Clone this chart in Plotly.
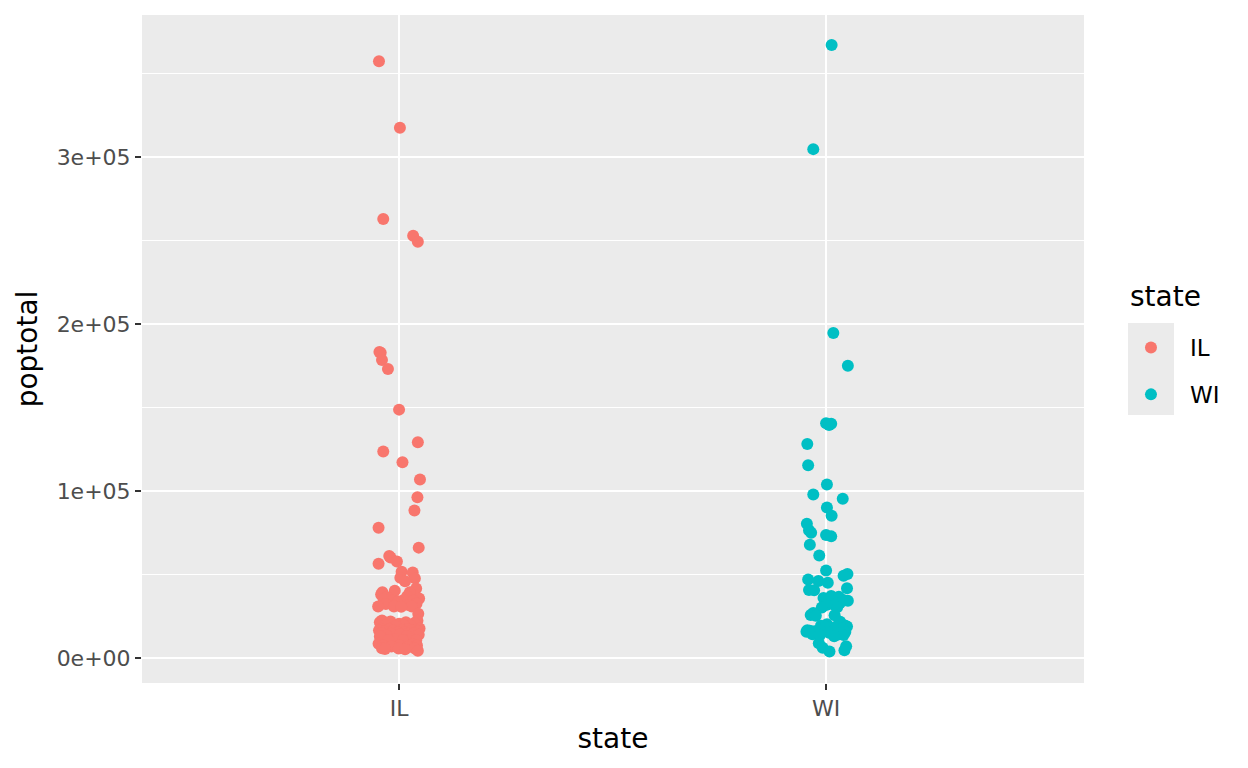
import plotly.graph_objects as go

# county populations (poptotal), with the jitter offset of each point
il_pop = [357313, 317471, 262852, 252913, 249238, 183241, 182827, 178386, 173025, 148723,
          129180, 123692, 117206, 106913, 96255, 88257, 77932, 66090, 61067, 60186,
          57733, 56393, 51644, 51159, 48052, 47679, 45957, 41561, 40319, 39413,
          39301, 38080, 37020, 36397, 35688, 35244, 34583, 34418, 34392, 33944,
          32653, 32337, 31704, 30806, 30798, 30787, 30728, 26551, 22422, 22261,
          21821, 21412, 21373, 20893, 20539, 19595, 19464, 19464, 19181, 17619,
          17577, 17290, 17241, 16805, 16545, 16522, 16516, 16269, 15972, 15921,
          15548, 15317, 14991, 14965, 14752, 14460, 14275, 13930, 13437, 13111,
          12846, 11347, 11164, 10670, 10626, 10609, 8499, 8096, 7523, 7498,
          7440, 6909, 6534, 5836, 5730, 5644, 5322, 5189, 4373]
il_jit = [-0.047, 0.002, -0.037, 0.033, 0.044, -0.046, -0.043, -0.040, -0.026, 0.000,
          0.044, -0.037, 0.008, 0.049, 0.043, 0.036, -0.048, 0.046, -0.023, -0.020,
          -0.005, -0.048, 0.006, 0.032, 0.003, 0.037, 0.014, 0.040, -0.010, -0.039,
          0.025, -0.042, 0.019, -0.028, 0.047, -0.036, 0.010, 0.034, -0.015, -0.002,
          0.041, -0.031, 0.022, -0.049, -0.012, 0.030, 0.005, 0.045, -0.040, 0.043,
          -0.020, 0.016, -0.045, 0.036, 0.000, -0.033, 0.027, 0.011, -0.008, 0.048,
          -0.043, 0.020, -0.024, 0.039, -0.047, 0.007, 0.030, -0.014, 0.044, -0.036,
          0.013, -0.003, 0.024, -0.041, 0.035, -0.019, 0.002, 0.046, -0.030, 0.018,
          -0.045, 0.028, -0.009, 0.040, -0.025, 0.009, -0.048, 0.032, -0.039, 0.001,
          0.042, -0.018, 0.021, -0.040, -0.001, 0.037, -0.033, 0.014, 0.044]

wi_pop = [367085, 304715, 194594, 175034, 140510, 140320, 139510, 128181, 115400, 103877,
          97904, 95328, 90083, 85183, 80421, 76559, 75000, 73605, 72831, 67783,
          61405, 52360, 50251, 49264, 46975, 46104, 45088, 41758, 40750, 40548,
          37157, 36633, 35909, 34773, 34291, 32765, 31679, 31647, 30339, 30226,
          26993, 25690, 25617, 25263, 21650, 20150, 19505, 19385, 18901, 18878,
          18651, 17707, 17521, 16588, 16307, 16076, 15940, 15682, 15600, 15079,
          14181, 14008, 13772, 13584, 13084, 8776, 7107, 6153, 4590, 3890]
wi_jit = [0.013, -0.030, 0.017, 0.051, 0.000, 0.012, 0.007, -0.044, -0.042, 0.002,
          -0.030, 0.039, 0.002, 0.013, -0.045, -0.040, -0.035, 0.000, 0.012, -0.038,
          -0.016, 0.000, 0.050, 0.041, -0.042, -0.018, 0.004, 0.049, -0.040, -0.028,
          0.012, 0.030, -0.006, 0.040, 0.051, 0.032, 0.000, 0.020, 0.026, -0.010,
          -0.030, -0.036, 0.020, -0.024, 0.033, 0.002, 0.044, -0.012, 0.024, 0.049,
          -0.001, 0.010, 0.037, -0.044, -0.038, -0.027, 0.016, -0.046, 0.045, 0.007,
          -0.032, 0.028, 0.041, -0.015, 0.019, -0.017, 0.047, -0.008, 0.043, 0.008]

states = ["IL", "WI"]
colors = ["#F8766D", "#00BFC4"]
y_ticks = [0, 100000, 200000, 300000]
y_labels = ["0e+00", "1e+05", "2e+05", "3e+05"]

FONT = "DejaVu Sans"
PANEL = "#EBEBEB"

fig = go.Figure()
for i, (pop, jit) in enumerate([(il_pop, il_jit), (wi_pop, wi_jit)]):
    fig.add_trace(go.Scatter(
        x=[i + 1 + j for j in jit], y=pop, mode="markers", name=states[i],
        legendgroup=states[i],
        marker=dict(color=colors[i], size=12, line=dict(width=0)),
    ))

# grey box behind the legend keys, like ggplot's key background
fig.add_shape(type="rect", xref="paper", yref="paper", x0=1.0467, x1=1.0955,
              y0=0.4012, y1=0.5389, fillcolor=PANEL, line=dict(width=0), layer="below")

# legend title placed by hand so the keys can sit further from the labels
fig.add_annotation(text="state", xref="paper", yref="paper", x=1.0467, y=0.5793,
                   xanchor="left", yanchor="middle", showarrow=False,
                   font=dict(size=28, color="black"))

# the page adds an 8px body margin, so the figure is a bit smaller than the window
fig.update_layout(
    width=1240, height=760,
    margin=dict(l=134, r=164, t=7, b=85),
    paper_bgcolor="white", plot_bgcolor=PANEL,
    font=dict(family=FONT, color="black"),
    showlegend=True,
    legend=dict(
        font=dict(size=23), x=1.0297, xanchor="left", y=0.5344, yanchor="top",
        itemwidth=68, tracegroupgap=14, bgcolor="rgba(0,0,0,0)",
    ),
    xaxis=dict(
        range=[0.398, 2.604], tickvals=[1, 2], ticktext=states,
        showgrid=True, gridcolor="white", gridwidth=2.2, zeroline=False,
        ticks="outside", ticklen=6, tickwidth=1.6, tickcolor="#333333",
        tickfont=dict(size=22, color="#4D4D4D"),
        title=dict(text="state", font=dict(size=28), standoff=7),
    ),
    yaxis=dict(
        range=[-14970, 385030], tickvals=y_ticks, ticktext=y_labels,
        showgrid=True, gridcolor="white", gridwidth=2.2, zeroline=False,
        minor=dict(dtick=50000, tick0=0, showgrid=True, gridcolor="white", gridwidth=1.1, ticks=""),
        ticks="outside", ticklen=6, tickwidth=1.6, tickcolor="#333333",
        tickfont=dict(size=22, color="#4D4D4D"),
        title=dict(text="poptotal", font=dict(size=28), standoff=10),
    ),
)

fig.write_html("out.html")
